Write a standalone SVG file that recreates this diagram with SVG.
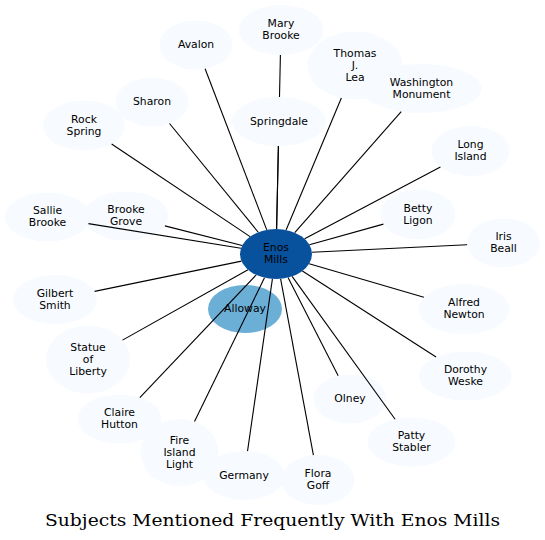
<svg xmlns="http://www.w3.org/2000/svg" width="545" height="540" viewBox="0 0 545 540">
<style>
.n ellipse{fill:#f7fbff;stroke:none}
text{font-family:"DejaVu Sans",sans-serif;font-size:10.8px;fill:#000;text-anchor:middle}
.e{stroke:#000;stroke-width:1.1;fill:none}
.title{font-family:"DejaVu Serif",serif;font-size:16px}
</style>
<rect width="545" height="540" fill="#fff"/>
<g id="nodes">
<g id="n-alloway"><ellipse cx="245" cy="309" rx="37" ry="24" fill="#6baed6"/><text x="245" y="312">Alloway</text></g>
<g id="n-enos" ><ellipse cx="276" cy="254" rx="36" ry="25" fill="#08519c"/><text x="276" y="251">Enos</text><text x="276" y="263">Mills</text></g>
<g id="n-mary" class="n"><ellipse cx="281" cy="30" rx="42.5" ry="25"/><text x="281" y="27">Mary</text><text x="281" y="39">Brooke</text></g>
<g id="n-avalon" class="n"><ellipse cx="196" cy="45" rx="36.5" ry="24.5"/><text x="196" y="48">Avalon</text></g>
<g id="n-thomas" class="n"><ellipse cx="355" cy="65.5" rx="47.5" ry="34"/><text x="355" y="56.5">Thomas</text><text x="355" y="68.5">J.</text><text x="355" y="80.5">Lea</text></g>
<g id="n-washington" class="n"><ellipse cx="421.5" cy="88.5" rx="60" ry="24.5"/><text x="421.5" y="85.5">Washington</text><text x="421.5" y="97.5">Monument</text></g>
<g id="n-sharon" class="n"><ellipse cx="152" cy="102" rx="36.5" ry="24.5"/><text x="152" y="105">Sharon</text></g>
<g id="n-rock" class="n"><ellipse cx="84" cy="125.5" rx="41" ry="25"/><text x="84" y="122.5">Rock</text><text x="84" y="134.5">Spring</text></g>
<g id="n-springdale" class="n"><ellipse cx="279" cy="121.5" rx="47" ry="24.5"/><text x="279" y="124.5">Springdale</text></g>
<g id="n-long" class="n"><ellipse cx="470.5" cy="151" rx="39" ry="25"/><text x="470.5" y="148">Long</text><text x="470.5" y="160">Island</text></g>
<g id="n-sallie" class="n"><ellipse cx="47.5" cy="217" rx="42.5" ry="24.5"/><text x="47.5" y="214">Sallie</text><text x="47.5" y="226">Brooke</text></g>
<g id="n-brookegrove" class="n"><ellipse cx="126" cy="216" rx="42.5" ry="24.5"/><text x="126" y="213">Brooke</text><text x="126" y="225">Grove</text></g>
<g id="n-betty" class="n"><ellipse cx="418" cy="214.5" rx="37.5" ry="25"/><text x="418" y="211.5">Betty</text><text x="418" y="223.5">Ligon</text></g>
<g id="n-iris" class="n"><ellipse cx="503.5" cy="243" rx="36.5" ry="24.5"/><text x="503.5" y="240">Iris</text><text x="503.5" y="252">Beall</text></g>
<g id="n-gilbert" class="n"><ellipse cx="55" cy="299.5" rx="42" ry="24.5"/><text x="55" y="296.5">Gilbert</text><text x="55" y="308.5">Smith</text></g>
<g id="n-alfred" class="n"><ellipse cx="464" cy="309" rx="45.5" ry="25"/><text x="464" y="306">Alfred</text><text x="464" y="318">Newton</text></g>
<g id="n-statue" class="n"><ellipse cx="88" cy="359.5" rx="42" ry="34"/><text x="88" y="350.5">Statue</text><text x="88" y="362.5">of</text><text x="88" y="374.5">Liberty</text></g>
<g id="n-dorothy" class="n"><ellipse cx="465.5" cy="376" rx="46.5" ry="24.5"/><text x="465.5" y="373">Dorothy</text><text x="465.5" y="385">Weske</text></g>
<g id="n-claire" class="n"><ellipse cx="119.5" cy="419" rx="42" ry="24.5"/><text x="119.5" y="416">Claire</text><text x="119.5" y="428">Hutton</text></g>
<g id="n-fire" class="n"><ellipse cx="179.5" cy="452.5" rx="39" ry="33.5"/><text x="179.5" y="443.5">Fire</text><text x="179.5" y="455.5">Island</text><text x="179.5" y="467.5">Light</text></g>
<g id="n-germany" class="n"><ellipse cx="244" cy="475.5" rx="41" ry="24.5"/><text x="244" y="478.5">Germany</text></g>
<g id="n-flora" class="n"><ellipse cx="318" cy="480" rx="36.5" ry="25"/><text x="318" y="477">Flora</text><text x="318" y="489">Goff</text></g>
<g id="n-olney" class="n"><ellipse cx="350" cy="399" rx="36.5" ry="24.5"/><text x="350" y="402">Olney</text></g>
<g id="n-patty" class="n"><ellipse cx="411.5" cy="442" rx="44" ry="24.5"/><text x="411.5" y="439">Patty</text><text x="411.5" y="451">Stabler</text></g>
</g>
<g id="connectors" class="e">
<path class="e" d="M280.4,55 L279.5,97 M278.4,146 L276.6,229"/>
<path class="e" d="M276.6,229 L278.4,146"/>
<path class="e" d="M266.75,229.84 L205.1,68.7"/>
<path class="e" d="M286.1,230 L341.35,98.07"/>
<path class="e" d="M294.76,232.66 L401.2,111.56"/>
<path class="e" d="M258.26,232.25 L169.53,123.49"/>
<path class="e" d="M250.08,236.65 L111.61,143.98"/>
<path class="e" d="M304.63,238.84 L440.43,166.92"/>
<path class="e" d="M240.94,248.32 L88.41,223.62"/>
<path class="e" d="M242.18,245.43 L164.91,225.86"/>
<path class="e" d="M309.42,244.7 L383.39,224.13"/>
<path class="e" d="M311.91,252.26 L467.09,244.76"/>
<path class="e" d="M241.49,261.11 L94.6,291.35"/>
<path class="e" d="M309.18,263.71 L423.84,297.25"/>
<path class="e" d="M248,269.71 L122.52,340.13"/>
<path class="e" d="M302.4,271 L436.05,357.04"/>
<path class="e" d="M256.2,274.88 L139.83,397.56"/>
<path class="e" d="M264.48,277.69 L194.53,421.59"/>
<path class="e" d="M272.41,278.87 L247.53,451.09"/>
<path class="e" d="M280.61,278.79 L313.39,455.2"/>
<path class="e" d="M288.03,277.57 L338.17,375.82"/>
<path class="e" d="M292.11,276.35 L395.11,419.26"/>
</g>
<text class="title" x="272.5" y="525.5" textLength="455" lengthAdjust="spacingAndGlyphs">Subjects Mentioned Frequently With Enos Mills</text>
</svg>
